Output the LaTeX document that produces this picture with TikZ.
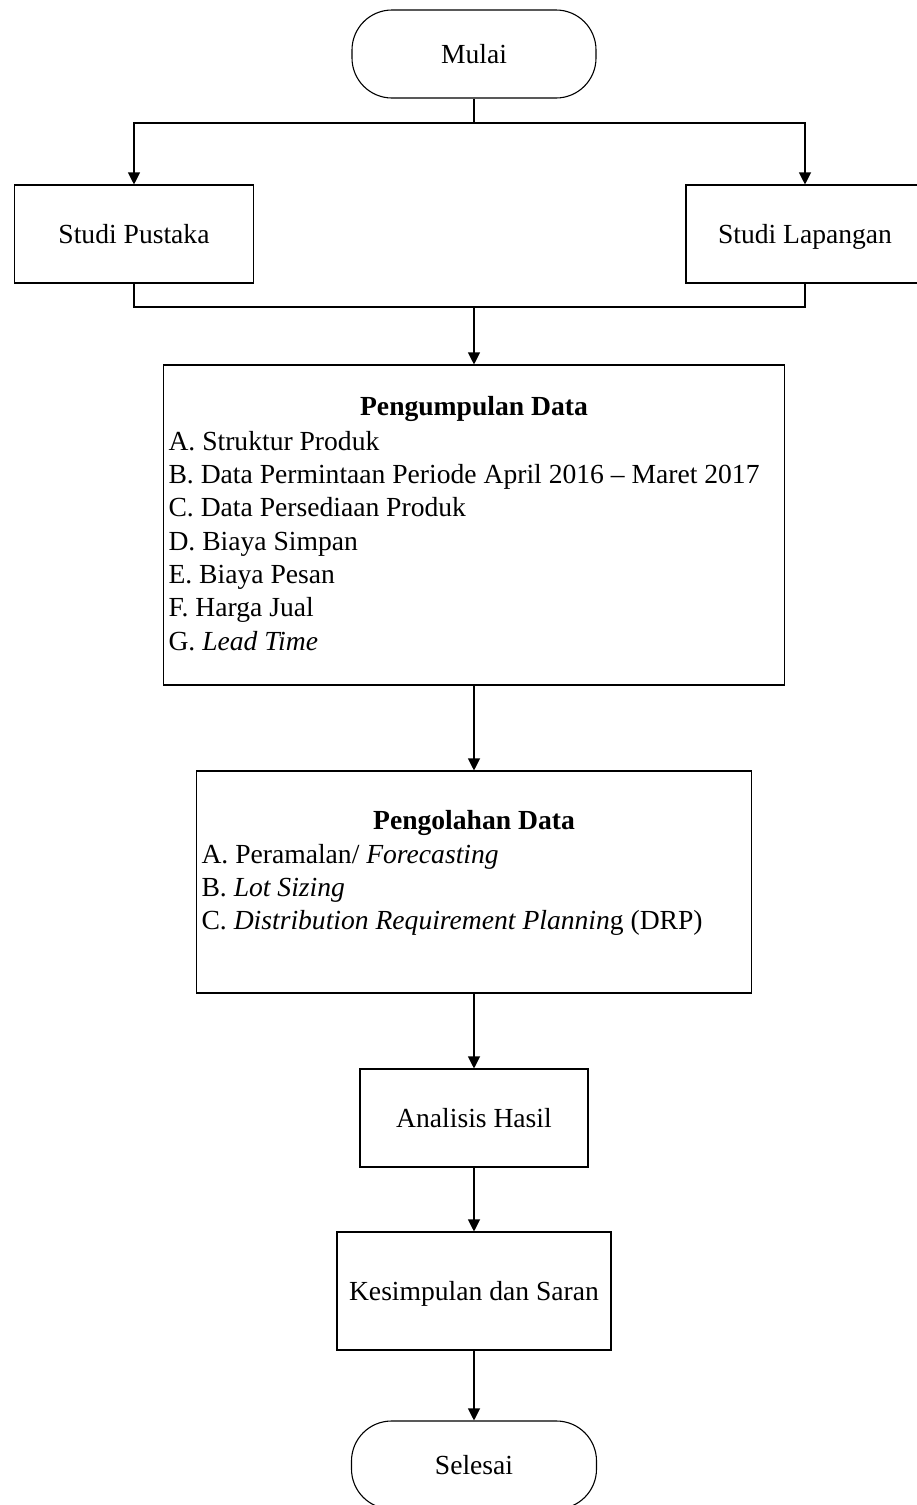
\documentclass[tikz,border=0pt]{standalone}
\usepackage{fontspec}
\setmainfont{Liberation Serif}
\usetikzlibrary{arrows.meta}
\begin{document}
\begin{tikzpicture}[x=1pt,y=-1pt, line width=1.1pt,
  font=\fontsize{27.6}{33.3}\selectfont,
  box/.style={draw, inner sep=0pt, text height=24.8pt, text depth=6.6pt},
  term/.style={box, rounded corners=40pt, minimum width=244pt, minimum height=88pt},
  txt/.style={inner sep=0pt},
  arr/.style={-{Triangle[length=12pt,width=12pt]}}]
\useasboundingbox (0,0) rectangle (916,1505);

% nodes
\node[term] (mulai) at (474,54) {Mulai};
\node[box, minimum width=239pt, minimum height=98pt] (sp) at (134,234) {Studi Pustaka};
\node[box, minimum width=238pt, minimum height=98pt] (sl) at (805,234) {Studi Lapangan};

\node[box, minimum width=621pt, minimum height=320pt] (pd) at (474,525) {};
\node[txt, anchor=base] (pdT) at (474,415) {\textbf{Pengumpulan Data}};
\node[txt, anchor=base west] (pdA) at (168,450) {A. Struktur Produk};
\node[txt, anchor=base west] (pdB) at (168,483) {B. Data Permintaan Periode April 2016 -- Maret 2017};
\node[txt, anchor=base west] (pdC) at (168,516) {C. Data Persediaan Produk};
\node[txt, anchor=base west] (pdD) at (168,550) {D. Biaya Simpan};
\node[txt, anchor=base west] (pdE) at (168,583) {E. Biaya Pesan};
\node[txt, anchor=base west] (pdF) at (168,616) {F. Harga Jual};
\node[txt, anchor=base west] (pdG) at (168,650) {G. \textit{Lead Time}};

\node[box, minimum width=555pt, minimum height=222pt] (ol) at (474,882) {};
\node[txt, anchor=base] (olT) at (474,829) {\textbf{Pengolahan Data}};
\node[txt, anchor=base west] (olA) at (201,863) {A. Peramalan/ \textit{Forecasting}};
\node[txt, anchor=base west] (olB) at (201,896) {B. \textit{Lot Sizing}};
\node[txt, anchor=base west] (olC) at (201,929) {C. \textit{Distribution Requirement Plannin}g (DRP)};

\node[box, minimum width=228pt, minimum height=98pt] (ah) at (474,1118) {Analisis Hasil};
\node[box, minimum width=274pt, minimum height=118pt] (ks) at (474,1291) {Kesimpulan dan Saran};
\node[term, minimum width=245pt] (sel) at (474,1465) {Selesai};

% connectors
\coordinate (split) at (474,123);
\coordinate (merge) at (474,307);
\draw (mulai.south) -- (split);
\draw[arr] (split) -| (sp.north);
\draw[arr] (split) -| (sl.north);
\draw (sp.south) |- (merge);
\draw (sl.south) |- (merge);
\draw[arr] (merge) -- (pd.north);
\draw[arr] (pd.south) -- (ol.north);
\draw[arr] (ol.south) -- (ah.north);
\draw[arr] (ah.south) -- (ks.north);
\draw[arr] (ks.south) -- (sel.north);
\end{tikzpicture}
\end{document}
